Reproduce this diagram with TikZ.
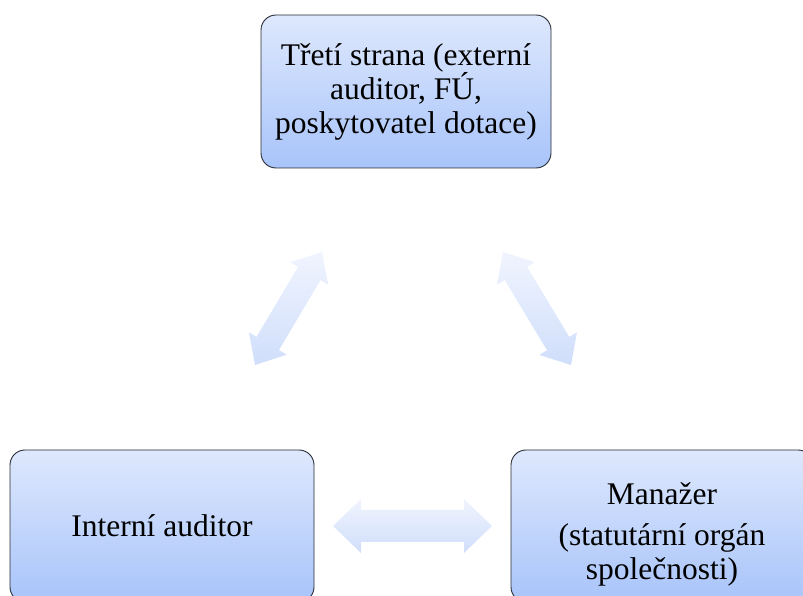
\documentclass[tikz,border=0pt]{standalone}
\usepackage{fontspec}
\setmainfont{Liberation Serif}
\usetikzlibrary{calc}

\definecolor{boxtop}{RGB}{222,232,253}
\definecolor{boxbot}{RGB}{168,196,250}
\definecolor{arrtop}{RGB}{240,244,254}
\definecolor{arrbot}{RGB}{208,222,251}
\definecolor{edge}{RGB}{40,44,52}

\tikzset{
  boxtext/.style={align=center, font=\fontsize{31.5}{34}\selectfont, inner sep=0pt},
  partybox/.style={boxtext, draw=edge, line width=0.9pt, rounded corners=15pt,
    top color=boxtop, bottom color=boxbot},
  flowarrow/.style={top color=arrtop, bottom color=arrbot, draw=none}
}

% double-headed block arrow between two named coordinates
% #1,#2 ends, #3 head length, #4 head half-width, #5 shaft half-width
\newcommand{\dblarrow}[5]{%
  \path[flowarrow]
    (#1)
    -- ($(#1)!#3!(#2)!#4!90:(#2)$)
    -- ($(#1)!#3!(#2)!#5!90:(#2)$)
    -- ($(#2)!#3!(#1)!#5!-90:(#1)$)
    -- ($(#2)!#3!(#1)!#4!-90:(#1)$)
    -- (#2)
    -- ($(#2)!#3!(#1)!#4!90:(#1)$)
    -- ($(#2)!#3!(#1)!#5!90:(#1)$)
    -- ($(#1)!#3!(#2)!#5!-90:(#2)$)
    -- ($(#1)!#3!(#2)!#4!-90:(#2)$)
    -- cycle;}

\begin{document}
\begin{tikzpicture}[x=1pt,y=1pt]
  \useasboundingbox (0,0) rectangle (803,596);
  \clip (0,0) rectangle (803,596);

  \node[partybox, minimum width=290pt, minimum height=153pt] (third) at (406,504.5)
    {Třetí strana (externí\\auditor, FÚ,\\poskytovatel dotace)};
  \node[partybox, minimum width=304pt, minimum height=152pt] (internal) at (162,70)
    {Interní auditor};
  \node[partybox, minimum width=302pt, minimum height=152pt] (manager) at (662,70) {};
  \node[boxtext] (managertext) at ($(manager.center)+(0,-8)$)
    {Manažer\\[7pt](statutární orgán\\společnosti)};

  % arrow end points
  \coordinate (l1) at (255,231);
  \coordinate (l2) at (322,344);
  \coordinate (r1) at (503,344);
  \coordinate (r2) at (571,231);
  \coordinate (h1) at (333,70);
  \coordinate (h2) at (492,70);

  \dblarrow{l1}{l2}{25pt}{22pt}{13pt}
  \dblarrow{r1}{r2}{25pt}{22pt}{13pt}
  \dblarrow{h1}{h2}{28pt}{27pt}{16pt}
\end{tikzpicture}
\end{document}
